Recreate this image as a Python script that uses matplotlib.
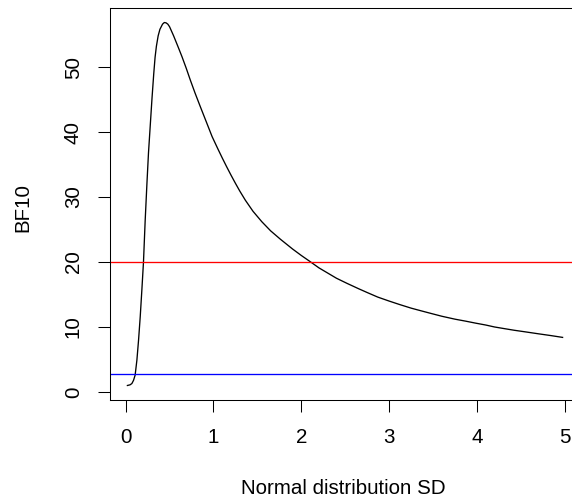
import matplotlib
matplotlib.use("Agg")
import matplotlib.pyplot as plt

plt.rcParams['font.family'] = ['Liberation Sans', 'DejaVu Sans']

# Curve
sd = [0.02, 0.05, 0.071, 0.09, 0.108, 0.128, 0.147, 0.166, 0.185, 0.203, 0.222,
      0.242, 0.26, 0.28, 0.30, 0.32, 0.335, 0.35, 0.37, 0.39, 0.42, 0.44, 0.46,
      0.48, 0.50, 0.546, 0.60, 0.641, 0.69, 0.736, 0.79, 0.85, 0.92, 0.984,
      1.05, 1.1, 1.15, 1.2, 1.25, 1.3, 1.363, 1.45, 1.55, 1.65, 1.762, 1.9,
      2.0, 2.096, 2.2, 2.3, 2.4, 2.522, 2.65, 2.75, 2.87, 2.997, 3.12, 3.25,
      3.36, 3.472, 3.6, 3.75, 3.87, 3.981, 4.1, 4.2, 4.31, 4.422, 4.55, 4.7,
      4.84, 4.974]
bf10 = [1.0, 1.1, 1.3, 1.8, 2.6, 4.9, 8.0, 11.6, 15.8, 20.0, 26.3,
        32.0, 36.8, 41.0, 45.2, 49.0, 51.5, 53.2, 54.8, 55.8, 56.6, 56.85, 56.8,
        56.6, 56.2, 54.8, 53.0, 51.6, 49.8, 48.0, 46.0, 43.9, 41.5, 39.3,
        37.4, 36.0, 34.65, 33.35, 32.1, 30.9, 29.5, 27.8, 26.2, 24.8, 23.5, 22.0,
        21.0, 20.1, 19.1, 18.3, 17.5, 16.7, 15.9, 15.3, 14.6, 14.0, 13.45, 12.9,
        12.5, 12.1, 11.65, 11.2, 10.9, 10.6, 10.3, 10.0, 9.75, 9.5, 9.25, 8.95,
        8.68, 8.4]
ref_high = 20
ref_low = 2.7
xticks = [0, 1, 2, 3, 4, 5]
yticks = [0, 10, 20, 30, 40, 50]

W, H = 572, 504
fig = plt.figure(figsize=(W / 100, H / 100), dpi=100)
ax = fig.add_axes([110 / W, 1 - 400 / H, (580 - 110) / W, (400 - 8) / H])

ax.plot(sd, bf10, color='black', lw=0.95, clip_on=True)
ax.axhline(ref_high, color='red', lw=0.95)
ax.axhline(ref_low, color='blue', lw=0.95)

x0, x1 = min(sd), max(sd)
y0, y1 = min(bf10), max(bf10)
ax.set_xlim(x0 - 0.04 * (x1 - x0), x1 + 0.04 * (x1 - x0))
ax.set_ylim(y0 - 0.04 * (y1 - y0), y1 + 0.04 * (y1 - y0))

ax.set_xticks(xticks)
ax.set_yticks(yticks)
ax.set_xticklabels([str(v) for v in xticks])
ax.set_yticklabels([str(v) for v in yticks], rotation=90, va='center')
ax.tick_params(axis='both', direction='out', length=8.6, width=0.75,
               labelsize=14.8, colors='black')
ax.tick_params(axis='x', pad=11.5)
ax.tick_params(axis='y', pad=11.0)
for s in ax.spines.values():
    s.set_linewidth(0.75)
    s.set_color('black')

fig.text(343 / W, 1 - 488 / H, 'Normal distribution SD', ha='center', va='center', fontsize=14.8)
fig.text(22.5 / W, 1 - 207 / H, 'BF10', ha='center', va='center', rotation=90, fontsize=14.8)

fig.savefig('out.png', dpi=100)
